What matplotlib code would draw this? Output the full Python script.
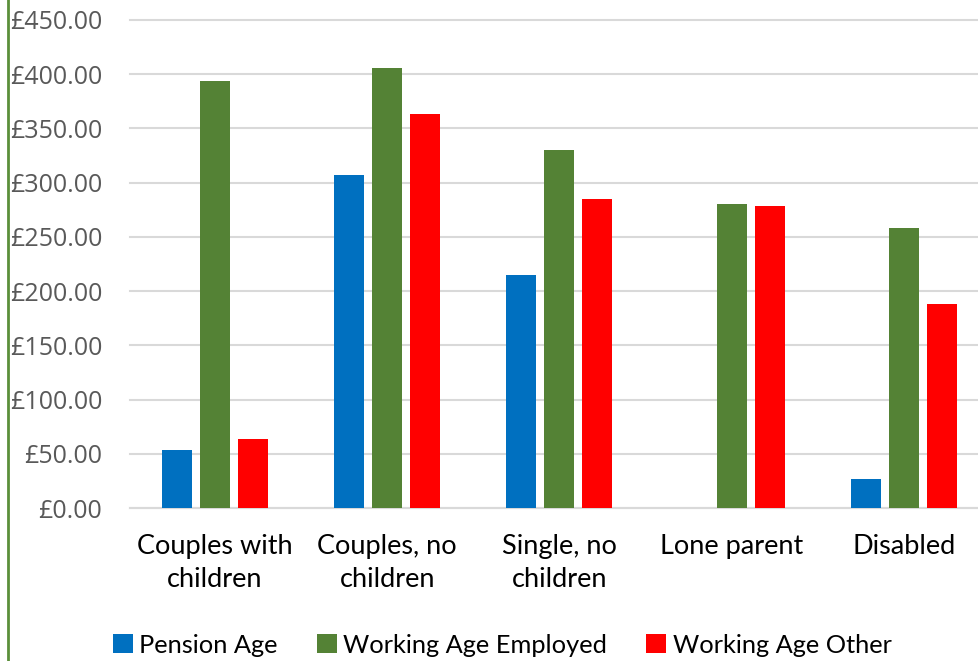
import matplotlib
matplotlib.use("Agg")
import matplotlib.pyplot as plt
from matplotlib.lines import Line2D
from matplotlib.patches import Patch
import numpy as np

categories = ["Couples with\nchildren", "Couples, no\nchildren", "Single, no\nchildren", "Lone parent", "Disabled"]
pension_age = [53.5, 307, 215, 0, 26.7]
working_employed = [394, 405.5, 330, 280.5, 258.5]
working_other = [64, 363, 285, 278.5, 188]
yticks = [0, 50, 100, 150, 200, 250, 300, 350, 400, 450]

colors = ["#0070C0", "#548235", "#FF0000"]
series_names = ["Pension Age", "Working Age Employed", "Working Age Other"]

fig = plt.figure(figsize=(9.79, 6.61), dpi=100)
ax_left, ax_right = 130, 979
ax = fig.add_axes([ax_left/979, 1-508/661, (ax_right-ax_left)/979, (508-20)/661])

cat_px = 172.25
x = np.arange(len(categories))
w = 30/cat_px
off = 38/cat_px
for i, (vals, c) in enumerate(zip([pension_age, working_employed, working_other], colors)):
    ax.bar(x + (i-1)*off, vals, width=w, color=c, zorder=3)

xl = -(215-ax_left)/cat_px
ax.set_xlim(xl, xl + (ax_right-ax_left)/cat_px)
ax.set_ylim(0, 450)
ax.set_yticks(yticks)
ax.set_yticklabels([f"£{v:.2f}" for v in yticks], fontfamily="Open Sans", fontsize=18, color="#595959")
ax.set_xticks(x)
ax.set_xticklabels(categories, fontfamily="Lato", fontsize=19.5, color="black", linespacing=1.4)
ax.tick_params(axis="y", length=0, pad=20)
ax.tick_params(axis="x", length=0, pad=19)
for s in ["top", "right", "left"]:
    ax.spines[s].set_visible(False)
ax.spines["bottom"].set_color("#D9D9D9")
ax.spines["bottom"].set_linewidth(1.5)
ax.yaxis.grid(True, color="#D9D9D9", linewidth=1.5, zorder=0)
ax.set_axisbelow(True)
for gl in ax.get_ygridlines():
    gl.set_clip_on(False)

# left green border line
fig.add_artist(Line2D([8/979, 8/979], [0, 1], color="#5B8F3A", linewidth=2, transform=fig.transFigure))

handles = [Patch(facecolor=c, edgecolor="none") for c in colors]
fig.legend(handles, series_names, loc="center", bbox_to_anchor=(0.513, 0.024), ncol=3, frameon=False,
           prop={"family": "Lato", "size": 18.3}, handlelength=0.78, handleheight=0.78, handletextpad=0.25,
           columnspacing=1.55, borderaxespad=0)

fig.savefig("out.png", dpi=100, facecolor="white")
